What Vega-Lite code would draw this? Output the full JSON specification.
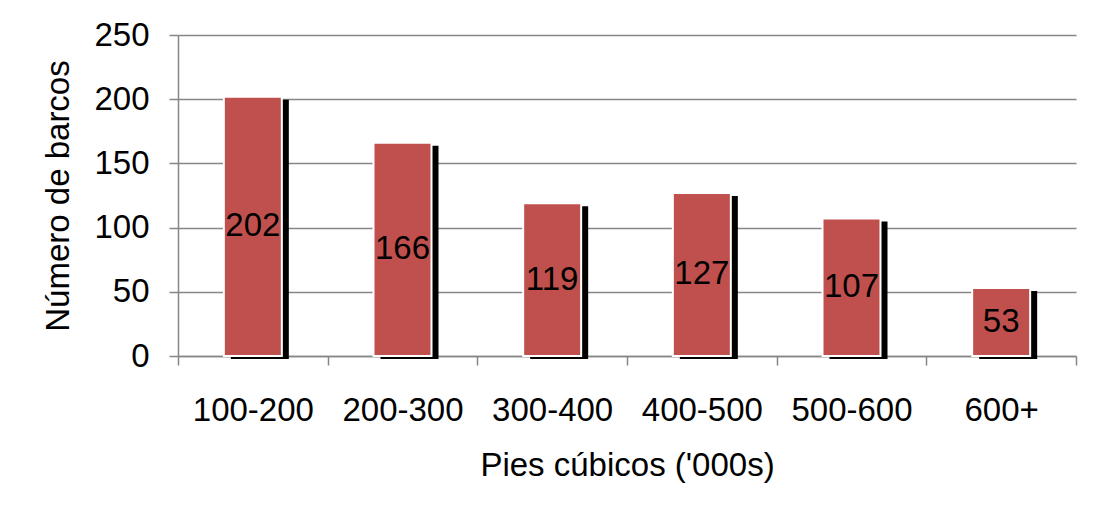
{
  "$schema": "https://vega.github.io/schema/vega-lite/v6.json",
  "width": 898,
  "height": 321,
  "autosize": {"type": "none"},
  "padding": {"left": 178, "top": 35, "right": 28, "bottom": 152},
  "background": "white",
  "config": {
    "view": {"stroke": null},
    "font": "Liberation Sans",
    "axis": {
      "labelFont": "Liberation Sans",
      "titleFont": "Liberation Sans",
      "labelFontSize": 33,
      "titleFontSize": 33,
      "labelColor": "black",
      "titleColor": "black",
      "titleFontWeight": "normal",
      "domainColor": "#868686",
      "domainWidth": 1.5,
      "tickColor": "#868686",
      "tickWidth": 1.5,
      "tickSize": 9,
      "gridColor": "#868686",
      "gridWidth": 1.5,
      "gridOpacity": 1
    }
  },
  "data": {
    "values": [
      {"rango": "100-200", "barcos": 202},
      {"rango": "200-300", "barcos": 166},
      {"rango": "300-400", "barcos": 119},
      {"rango": "400-500", "barcos": 127},
      {"rango": "500-600", "barcos": 107},
      {"rango": "600+", "barcos": 53}
    ]
  },
  "transform": [{"calculate": "datum.barcos / 2", "as": "mitad"}],
  "encoding": {
    "x": {
      "field": "rango",
      "type": "nominal",
      "sort": null,
      "scale": {"paddingInner": 0, "paddingOuter": 0},
      "axis": {
        "title": "Pies cúbicos ('000s)",
        "labelAngle": 0,
        "labelPadding": 29,
        "titlePadding": 22,
        "tickBand": "extent",
        "grid": false
      }
    }
  },
  "layer": [
    {
      "mark": {"type": "bar", "color": "black", "size": 58, "xOffset": 7, "yOffset": 3, "y2Offset": 3},
      "encoding": {
        "y": {
          "field": "barcos",
          "type": "quantitative",
          "scale": {"domain": [0, 250], "nice": false},
          "axis": {
            "title": "Número de barcos",
            "values": [0, 50, 100, 150, 200, 250],
            "labelPadding": 20,
            "titlePadding": 18,
            "grid": true
          }
        }
      }
    },
    {
      "mark": {"type": "bar", "color": "#C0504D", "size": 58, "stroke": "white", "strokeWidth": 2},
      "encoding": {"y": {"field": "barcos", "type": "quantitative"}}
    },
    {
      "mark": {"type": "text", "fontSize": 33, "color": "black", "font": "Liberation Sans"},
      "encoding": {
        "y": {"field": "mitad", "type": "quantitative"},
        "text": {"field": "barcos", "type": "quantitative"}
      }
    }
  ]
}
